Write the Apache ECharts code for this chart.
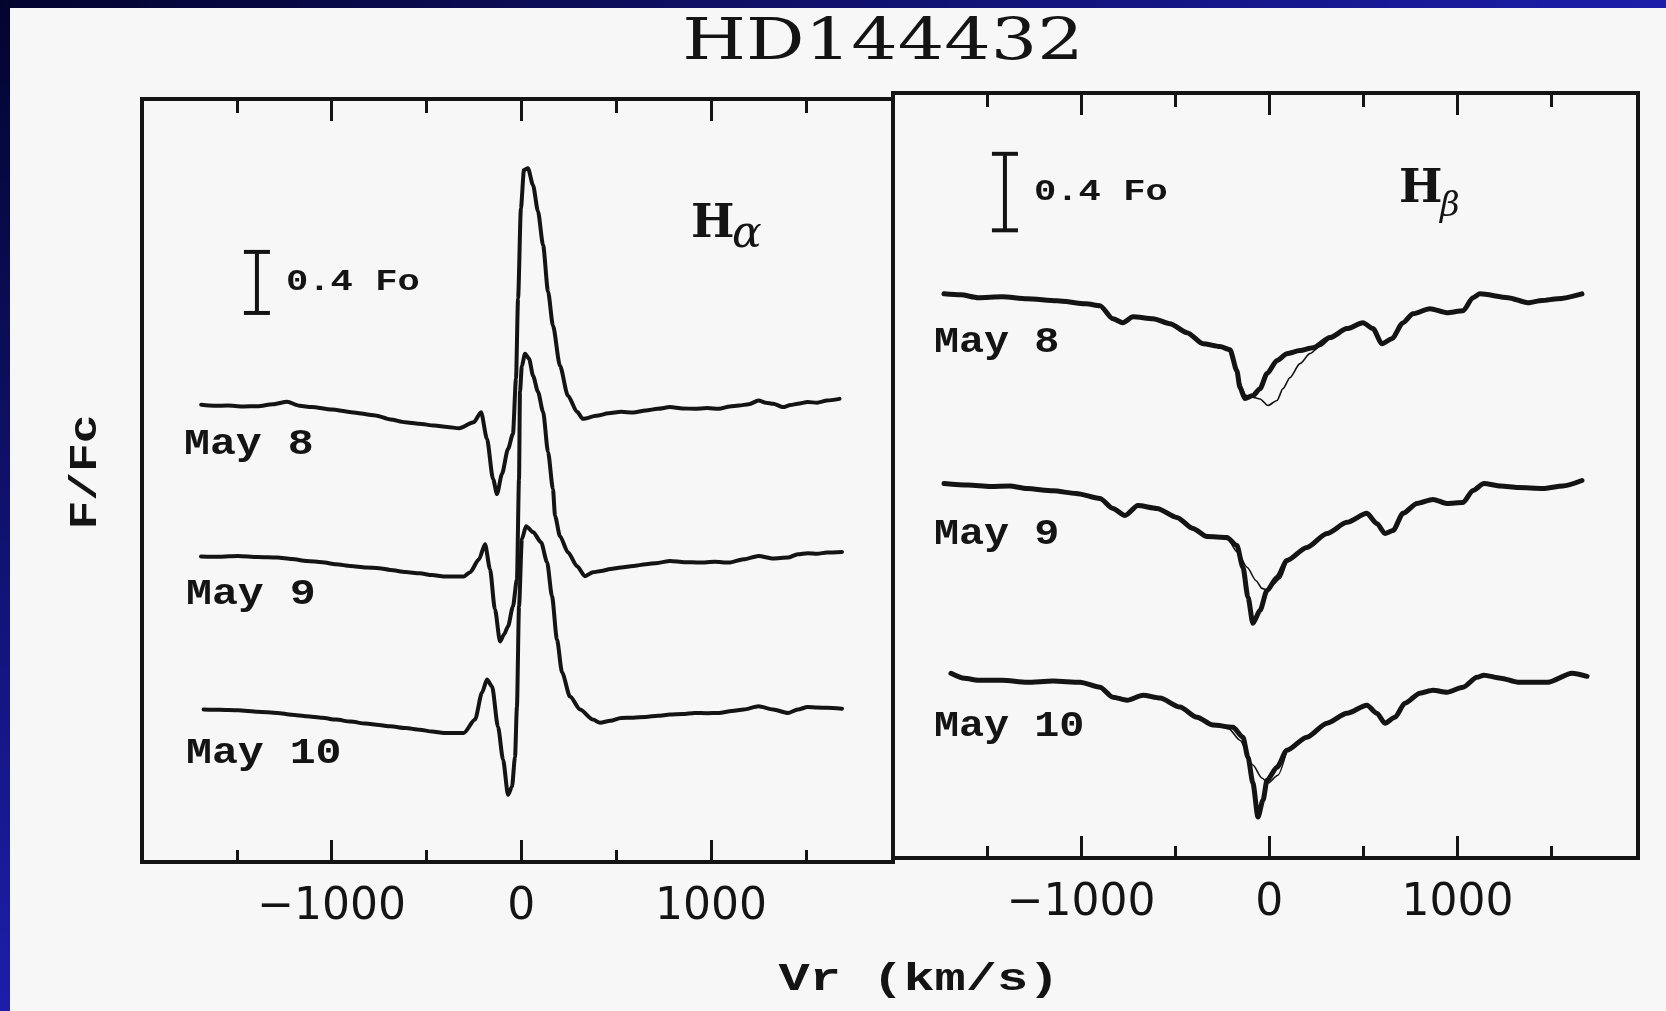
<!DOCTYPE html>
<html>
<head>
<meta charset="utf-8">
<title>HD144432</title>
<script src="https://cdn.jsdelivr.net/npm/echarts@6/dist/echarts.min.js"></script>
<style>
  html, body { margin: 0; padding: 0; background: #f7f7f7; }
  #chart { width: 1666px; height: 1011px; }
</style>
</head>
<body>
<div id="chart"></div>
<script>
// ---- values -------------------------------------------------------------
const V_RANGE = [-2000, 1960];               // km/s
const MAJOR_TICKS = [-1000, 0, 1000];
const MINOR_TICKS = [-1500, -500, 500, 1500];
const TICK_LABELS = [-1000, 0, 1000];

const DATES = ['May 8', 'May 9', 'May 10'];
const OFFSETS = [2, 1, 0];                   // vertical shift of each night, in Fc
const SCALE_BAR = 0.4;                        // Fo

// H-alpha profiles: [Vr km/s, F/Fc]
const haMay8 = [[-1688,0.996],[-1620,0.99],[-1547,0.991],[-1470,0.985],[-1390,0.987],[-1310,1.0],[-1235,1.016],[-1170,0.99],[-1105,0.981],[-1000,0.965],[-897,0.948],[-769,0.926],[-690,0.90],[-613,0.882],[-540,0.872],[-458,0.860],[-390,0.85],[-328,0.843],[-251,0.882],[-212,0.948],[-181,0.773],[-149,0.51],[-128,0.411],[-102,0.543],[-70,0.707],[-44,0.805],[-28,1.167],[-17,1.693],[-2,2.284],[14,2.534],[35,2.547],[62,2.435],[88,2.264],[115,2.041],[141,1.739],[167,1.515],[204,1.252],[246,1.055],[294,0.950],[325,0.904],[396,0.924],[460,0.94],[526,0.950],[590,0.945],[656,0.959],[720,0.97],[784,0.981],[850,0.972],[914,0.970],[980,0.975],[1042,0.970],[1100,0.985],[1148,0.991],[1200,1.0],[1251,1.024],[1290,1.01],[1328,1.003],[1380,0.981],[1420,0.995],[1458,1.003],[1510,1.014],[1560,1.01],[1612,1.024],[1678,1.035]];
const haMay9 = [[-1689,1.002],[-1590,1.0],[-1494,1.006],[-1390,0.998],[-1287,0.995],[-1210,0.985],[-1131,0.973],[-1050,0.965],[-977,0.951],[-900,0.94],[-820,0.930],[-750,0.925],[-691,0.914],[-610,0.90],[-536,0.892],[-470,0.88],[-408,0.871],[-303,0.871],[-270,0.899],[-223,0.984],[-191,1.083],[-165,0.919],[-139,0.656],[-112,0.445],[-91,0.491],[-70,0.544],[-44,0.675],[-23,0.853],[-12,1.510],[-7,2.081],[3,2.252],[20,2.331],[41,2.298],[62,2.187],[88,2.081],[115,1.950],[141,1.687],[167,1.444],[178,1.267],[204,1.135],[246,1.030],[294,0.938],[336,0.873],[378,0.899],[421,0.907],[470,0.92],[526,0.930],[590,0.94],[656,0.951],[720,0.96],[784,0.973],[860,0.965],[940,0.962],[1020,0.968],[1095,0.962],[1173,0.984],[1251,1.006],[1328,0.989],[1406,0.995],[1458,1.017],[1510,1.024],[1560,1.02],[1612,1.028],[1691,1.032]];
const haMay10 = [[-1675,0.999],[-1590,0.997],[-1494,0.994],[-1390,0.985],[-1287,0.977],[-1210,0.965],[-1131,0.955],[-1050,0.945],[-977,0.933],[-900,0.92],[-820,0.907],[-750,0.898],[-691,0.889],[-610,0.878],[-536,0.867],[-470,0.855],[-408,0.846],[-303,0.846],[-244,0.933],[-207,1.110],[-181,1.196],[-154,1.150],[-123,0.887],[-96,0.670],[-70,0.440],[-49,0.493],[-33,0.690],[-23,1.018],[-12,1.675],[3,2.116],[25,2.201],[62,2.162],[104,2.096],[136,1.965],[162,1.741],[188,1.459],[215,1.242],[257,1.084],[310,0.999],[378,0.933],[415,0.913],[470,0.925],[526,0.944],[590,0.945],[656,0.951],[720,0.958],[784,0.966],[850,0.97],[914,0.977],[980,0.975],[1042,0.977],[1110,0.99],[1173,0.999],[1251,1.020],[1328,0.999],[1406,0.977],[1458,0.999],[1510,1.016],[1560,1.012],[1612,1.010],[1691,1.005]];

// H-beta observed profiles (heavy) and comparison profiles (light): [Vr km/s, F/Fc]
const hbMay8 = [[-1729,0.950],[-1640,0.945],[-1548,0.930],[-1420,0.935],[-1288,0.924],[-1128,0.914],[-974,0.898],[-900,0.888],[-831,0.820],[-778,0.799],[-724,0.830],[-618,0.820],[-528,0.794],[-437,0.747],[-352,0.689],[-262,0.674],[-209,0.658],[-172,0.548],[-156,0.460],[-129,0.402],[-87,0.418],[-49,0.454],[-12,0.533],[41,0.601],[94,0.637],[163,0.653],[232,0.668],[323,0.721],[413,0.768],[498,0.799],[551,0.768],[599,0.689],[652,0.715],[711,0.799],[764,0.846],[854,0.872],[944,0.851],[1030,0.862],[1083,0.930],[1120,0.950],[1269,0.930],[1375,0.903],[1450,0.915],[1534,0.924],[1662,0.950]];
const hbMay8Thin = [[-262,0.674],[-215,0.66],[-190,0.60],[-160,0.49],[-125,0.42],[-90,0.41],[-49,0.40],[-7,0.366],[41,0.392],[73,0.454],[110,0.512],[163,0.585],[216,0.637],[269,0.675],[323,0.721]];
const hbMay9 = [[-1729,0.958],[-1600,0.950],[-1484,0.943],[-1380,0.945],[-1288,0.932],[-1150,0.920],[-1027,0.906],[-900,0.880],[-831,0.828],[-767,0.791],[-698,0.843],[-597,0.828],[-491,0.781],[-406,0.723],[-331,0.681],[-225,0.676],[-172,0.634],[-140,0.520],[-113,0.363],[-87,0.227],[-49,0.295],[-12,0.399],[41,0.467],[94,0.556],[200,0.624],[307,0.697],[413,0.755],[519,0.802],[572,0.749],[615,0.697],[658,0.713],[711,0.802],[785,0.854],[870,0.875],[944,0.854],[1030,0.859],[1083,0.922],[1141,0.958],[1230,0.945],[1322,0.937],[1455,0.932],[1560,0.945],[1662,0.974]];
const hbMay9Thin = [[-262,0.676],[-220,0.665],[-170,0.60],[-118,0.52],[-70,0.45],[-39,0.41],[-10,0.40],[20,0.43],[57,0.462],[94,0.556]];
const hbMay10 = [[-1692,0.966],[-1620,0.940],[-1548,0.930],[-1420,0.930],[-1288,0.919],[-1150,0.925],[-1006,0.919],[-900,0.893],[-831,0.841],[-756,0.825],[-671,0.851],[-581,0.836],[-475,0.789],[-384,0.736],[-299,0.695],[-193,0.684],[-140,0.632],[-113,0.527],[-87,0.392],[-60,0.214],[-33,0.303],[-12,0.407],[41,0.475],[94,0.564],[200,0.632],[307,0.705],[413,0.757],[519,0.799],[572,0.757],[615,0.705],[668,0.736],[721,0.809],[801,0.862],[870,0.877],[944,0.867],[1030,0.893],[1104,0.945],[1141,0.956],[1230,0.940],[1322,0.919],[1481,0.919],[1609,0.966],[1689,0.950]];
const hbMay10Thin = [[-262,0.69],[-215,0.675],[-156,0.616],[-87,0.486],[-39,0.418],[-7,0.392],[46,0.433],[94,0.564]];

// ---- drawing ------------------------------------------------------------
const INK = '#141414';
const MONO = '"Liberation Mono", "DejaVu Sans Mono", monospace';
const SERIF = '"DejaVu Serif", "Liberation Serif", serif';

const shift = (profile, k) => profile.map(([v, f]) => [v, f + OFFSETS[k]]);

function tickFormatter(v) {
  return v < 0 ? '\u2212' + Math.abs(v) : String(v);
}

// four x axes per panel: long and short inward ticks, bottom and top
function velocityAxes(gridIndex) {
  const base = {
    type: 'value', gridIndex, min: V_RANGE[0], max: V_RANGE[1],
    axisLine: { show: false, onZero: false },
    splitLine: { show: false },
    axisLabel: { show: false }
  };
  const tick = (len, values) => ({
    show: true, inside: true, length: len, customValues: values,
    lineStyle: { color: INK, width: 3 }
  });
  return [
    Object.assign({}, base, {
      position: 'bottom', axisTick: tick(22, MAJOR_TICKS),
      axisLabel: {
        show: true, customValues: TICK_LABELS, formatter: tickFormatter,
        color: INK, fontFamily: '"DejaVu Sans", sans-serif', fontSize: 44, margin: 24
      }
    }),
    Object.assign({}, base, { position: 'bottom', axisTick: tick(12, MINOR_TICKS) }),
    Object.assign({}, base, { position: 'top', axisTick: tick(22, MAJOR_TICKS) }),
    Object.assign({}, base, { position: 'top', axisTick: tick(14, MINOR_TICKS) })
  ];
}

function fluxAxis(gridIndex, max) {
  return {
    type: 'value', gridIndex, min: 0, max,
    axisLine: { show: false }, axisTick: { show: false },
    axisLabel: { show: false }, splitLine: { show: false }
  };
}

function profileLine(data, xAxisIndex, yAxisIndex, width) {
  return {
    type: 'line', data, xAxisIndex, yAxisIndex,
    showSymbol: false, symbol: 'none', silent: true, animation: false,
    smooth: 0.25, smoothMonotone: 'x',
    lineStyle: { color: INK, width, join: 'round', cap: 'round' },
    z: width < 2 ? 4 : 3
  };
}

// I-shaped flux scale bar with its caption
function scaleBarItem(params, api) {
  const v = api.value(0), base = api.value(1), len = api.value(2);
  const top = api.coord([v, base + len]);
  const bot = api.coord([v, base]);
  const cap = 13;
  const stroke = { stroke: INK, lineWidth: 4 };
  return {
    type: 'group',
    children: [
      { type: 'line', shape: { x1: top[0], y1: top[1], x2: bot[0], y2: bot[1] }, style: stroke },
      { type: 'line', shape: { x1: top[0] - cap, y1: top[1], x2: top[0] + cap, y2: top[1] }, style: stroke },
      { type: 'line', shape: { x1: bot[0] - cap, y1: bot[1], x2: bot[0] + cap, y2: bot[1] }, style: stroke },
      {
        type: 'text', x: top[0] + 29, y: (top[1] + bot[1]) / 2, scaleX: 1.24,
        style: {
          text: len + ' Fo', font: 'bold 30px ' + MONO, fill: INK,
          textAlign: 'left', align: 'left', textVerticalAlign: 'middle', verticalAlign: 'middle'
        }
      }
    ]
  };
}

function text(str, x, y, font, extra) {
  return Object.assign({
    type: 'text', x, y, silent: true,
    style: {
      text: str, font, fill: INK,
      textAlign: 'left', align: 'left', textVerticalAlign: 'middle', verticalAlign: 'middle'
    }
  }, extra || {});
}
function centered(el) {
  el.style.textAlign = 'center'; el.style.align = 'center';
  return el;
}

const dateFont = 'bold 36px ' + MONO;
const graphics = [
  // frame of the slide
  { type: 'rect', shape: { x: 0, y: 0, width: 10, height: 1011 }, silent: true,
    style: { fill: new echarts.graphic.LinearGradient(0, 0, 0, 1, [
      { offset: 0, color: '#03042e' }, { offset: 1, color: '#1c1eaa' }]) } },
  { type: 'rect', shape: { x: 0, y: 0, width: 1666, height: 8 }, silent: true,
    style: { fill: new echarts.graphic.LinearGradient(0, 0, 1, 0, [
      { offset: 0, color: '#03042e' }, { offset: 1, color: '#1c1eaa' }]) } },

  centered(text('HD144432', 883, 44, '58px ' + SERIF, { scaleX: 1.26 })),
  centered(text('Vr (km/s)', 919, 980, 'bold 52px ' + MONO, { scaleY: 0.75 })),
  centered(text('F/Fc', 86, 472, 'bold 48px ' + MONO, { rotation: Math.PI / 2, scaleY: 0.8 })),

  text('H', 691, 225, 'bold 46px ' + SERIF),
  text('\u03b1', 732, 236, 'italic 44px ' + SERIF),
  text('H', 1399, 190, 'bold 46px ' + SERIF),
  text('\u03b2', 1440, 207, 'italic 34px ' + SERIF),

  text(DATES[0], 184, 445, dateFont, { scaleX: 1.2 }),
  text(DATES[1], 186, 595, dateFont, { scaleX: 1.2 }),
  text(DATES[2], 186, 754, dateFont, { scaleX: 1.2 }),
  text(DATES[0], 934, 343, dateFont, { scaleX: 1.16 }),
  text(DATES[1], 934, 535, dateFont, { scaleX: 1.16 }),
  text(DATES[2], 934, 727, dateFont, { scaleX: 1.16 })
];

const gridStyle = { show: true, borderColor: INK, borderWidth: 4, backgroundColor: 'transparent' };

const option = {
  backgroundColor: '#f7f7f7',
  animation: false,
  grid: [
    Object.assign({ left: 142, top: 99, width: 751, height: 763 }, gridStyle),
    Object.assign({ left: 893, top: 93, width: 745, height: 765 }, gridStyle)
  ],
  xAxis: velocityAxes(0).concat(velocityAxes(1)),
  yAxis: [fluxAxis(0, 5), fluxAxis(1, 4)],
  graphic: { elements: graphics },
  series: [
    profileLine(shift(haMay8, 0), 0, 0, 4),
    profileLine(shift(haMay9, 1), 0, 0, 4),
    profileLine(shift(haMay10, 2), 0, 0, 4),

    profileLine(shift(hbMay8, 0), 4, 1, 5),
    profileLine(shift(hbMay9, 1), 4, 1, 5),
    profileLine(shift(hbMay10, 2), 4, 1, 5),
    profileLine(shift(hbMay8Thin, 0), 4, 1, 1.6),
    profileLine(shift(hbMay9Thin, 1), 4, 1, 1.6),
    profileLine(shift(hbMay10Thin, 2), 4, 1, 1.6),

    { type: 'custom', xAxisIndex: 0, yAxisIndex: 0, silent: true,
      data: [[-1394, 3.598, SCALE_BAR]], renderItem: scaleBarItem },
    { type: 'custom', xAxisIndex: 4, yAxisIndex: 1, silent: true,
      data: [[-1405, 3.282, SCALE_BAR]], renderItem: scaleBarItem }
  ]
};

const chart = echarts.init(document.getElementById('chart'), null, { renderer: 'canvas' });
chart.setOption(option);
</script>
</body>
</html>
